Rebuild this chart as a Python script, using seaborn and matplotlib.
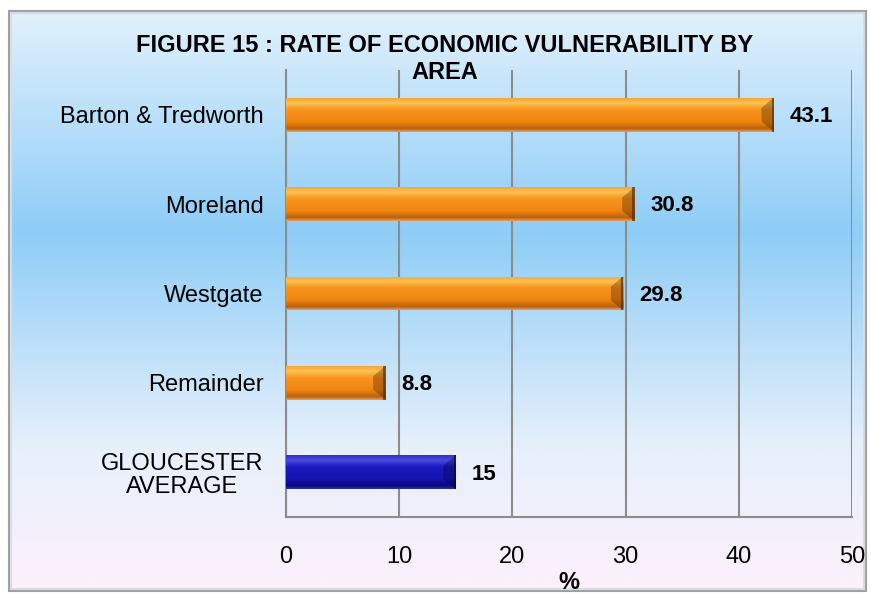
import numpy as np
import pandas as pd
import matplotlib
matplotlib.use("Agg")
import matplotlib.pyplot as plt
from matplotlib.colors import LinearSegmentedColormap
from matplotlib.patches import Rectangle, Polygon
import seaborn as sns

# data
areas = ["Barton & Tredworth", "Moreland", "Westgate", "Remainder", "GLOUCESTER\nAVERAGE"]
rates = [43.1, 30.8, 29.8, 8.8, 15]
labels = ["43.1", "30.8", "29.8", "8.8", "15"]
kinds = ["area", "area", "area", "area", "average"]
x_ticks = [0, 10, 20, 30, 40, 50]

df = pd.DataFrame({"area": areas, "rate": rates, "kind": kinds})

sns.set_style("white")
plt.rcParams["font.family"] = ["Liberation Sans", "DejaVu Sans"]
plt.rcParams["text.color"] = "black"
plt.rcParams["xtick.color"] = "black"
plt.rcParams["ytick.color"] = "black"
plt.rcParams["axes.labelcolor"] = "black"

W, H = 871, 594
fig = plt.figure(figsize=(W / 100, H / 100), dpi=100)

# chart frame with blue-to-pink vertical gradient
bg = fig.add_axes([0, 0, 1, 1], zorder=0)
bg.set_xlim(0, W)
bg.set_ylim(H, 0)
bg.axis("off")
bg_cmap = LinearSegmentedColormap.from_list(
    "bg", [(0.0, "#e2f1fc"), (0.38, "#8ecdf7"), (0.75, "#e6f0fb"), (1.0, "#fdf1fb")])
grad = np.linspace(0, 1, 256).reshape(-1, 1)
bg.imshow(grad, cmap=bg_cmap, aspect="auto", extent=(9, 866, 591, 11), zorder=1)
bg.add_patch(Rectangle((9, 11), 857, 580, fill=False, ec="#a0a0a0", lw=1.5, zorder=2))
bg.add_patch(Rectangle((11, 13), 853, 576, fill=False, ec="#d8dde2", lw=1.5, zorder=2))

ax = fig.add_axes([286 / W, 1 - 517 / H, 566 / W, 447 / H], zorder=1)
ax.patch.set_alpha(0)

sns.barplot(data=df, y="area", x="rate", hue="kind", palette={"area": "#f78f1e", "average": "#1616b8"},
            width=0.38, dodge=False, legend=False, ax=ax, zorder=3, edgecolor="none")

orange = LinearSegmentedColormap.from_list(
    "o", [(0, "#f9a43c"), (0.15, "#fdc24e"), (0.35, "#f8931f"), (0.7, "#f1860f"), (0.9, "#b9620e"), (1, "#e9a060")])
blue = LinearSegmentedColormap.from_list(
    "b", [(0, "#3030c8"), (0.15, "#4a4ae0"), (0.35, "#1a1ac0"), (0.7, "#1414b0"), (0.9, "#08087a"), (1, "#3030a8")])
for patch, kind in zip(ax.patches, kinds):
    x0, y0 = patch.get_x(), patch.get_y()
    w, h = patch.get_width(), patch.get_height()
    x1, y1 = x0 + w, y0 + h
    cm = orange if kind == "area" else blue
    img = ax.imshow(grad, cmap=cm, aspect="auto", extent=(x0, x1, y1, y0), zorder=4)
    img.set_clip_path(patch)
    # bevelled right end
    b, d = 1.1, h * 0.3
    dark = "#4a2505" if kind == "area" else "#03033a"
    ax.add_patch(Polygon([(x1, y0), (x1, y1), (x1 - b, y1 - d), (x1 - b, y0 + d)],
                         closed=True, color=dark, alpha=0.35, lw=0, zorder=5))
    ax.add_patch(Rectangle((x1 - 0.2, y0), 0.2, h, color=dark, alpha=0.6, lw=0, zorder=5))

for i, (v, t) in enumerate(zip(rates, labels)):
    ax.text(v + 1.4, i + 0.02, t, va="center", ha="left", fontsize=16, fontweight="bold", color="black", zorder=6)

ax.set_xlim(0, 50)
ax.set_ylim(4.5, -0.5)
ax.set_xticks(x_ticks)
ax.set_xticklabels([str(t) for t in x_ticks], fontsize=17)
ax.set_yticks(range(len(areas)))
ax.set_yticklabels(areas, fontsize=17, linespacing=1.05)
for lbl in ax.get_yticklabels():
    lbl.set_multialignment("center")
ax.tick_params(axis="y", length=0, pad=16)
ax.tick_params(axis="x", length=8, width=1.2, color="#8c8c8c", pad=17, direction="inout")
ax.set_yticks(np.arange(-0.5, 5, 1), minor=True)
ax.tick_params(axis="y", which="minor", length=7, width=1.2, color="#8c8c8c", direction="out")
ax.xaxis.grid(True, color="#8c8c8c", lw=1.5, zorder=0)
ax.set_axisbelow(True)
for s in ["top", "right"]:
    ax.spines[s].set_visible(False)
for s in ["left", "bottom"]:
    ax.spines[s].set_color("#8c8c8c")
    ax.spines[s].set_linewidth(1.5)
ax.set_ylabel("")
ax.set_xlabel("%", fontsize=17, fontweight="bold", labelpad=2)

fig.text(445 / W, 1 - 59 / H, "FIGURE 15 : RATE OF ECONOMIC VULNERABILITY BY\nAREA", ha="center", va="center",
         fontsize=17, fontweight="bold", linespacing=1.2, zorder=10)

fig.savefig("out.png", dpi=100)
